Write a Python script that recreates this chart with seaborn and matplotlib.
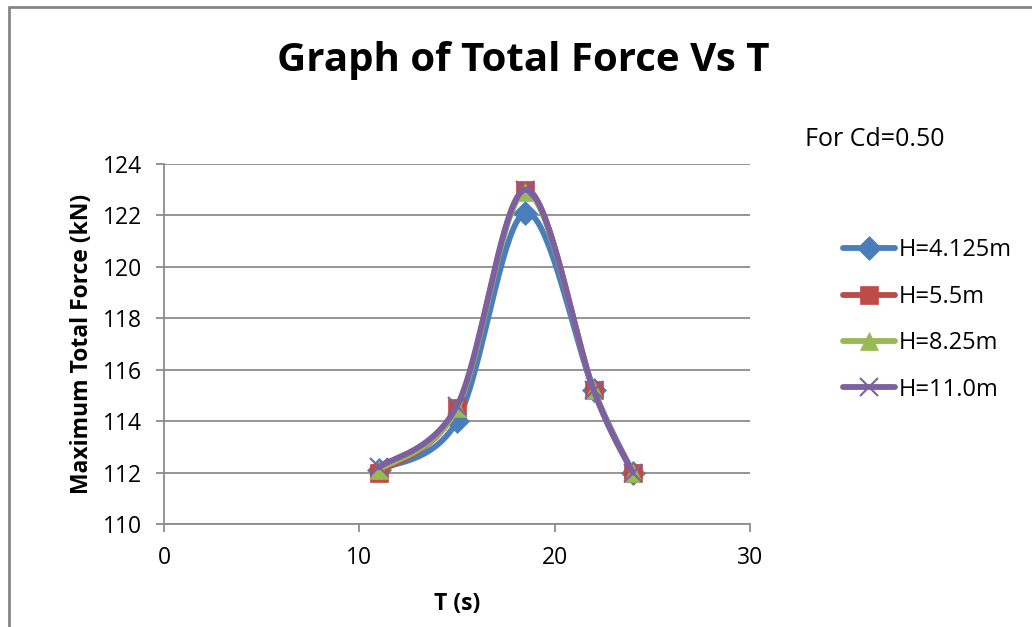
import numpy as np
import pandas as pd
import matplotlib
matplotlib.use("Agg")
import matplotlib.pyplot as plt
from matplotlib.lines import Line2D
import seaborn as sns

# ---- data ----
T = [11, 15, 18.5, 22, 24]
series_names = ["H=4.125m", "H=5.5m", "H=8.25m", "H=11.0m"]
f_h4125 = [112.1, 114.0, 122.1, 115.2, 112.0]
f_h55 = [112.0, 114.5, 123.0, 115.2, 112.0]
f_h825 = [112.1, 114.5, 122.9, 115.2, 112.0]
f_h110 = [112.2, 114.6, 123.0, 115.2, 112.0]
values = [f_h4125, f_h55, f_h825, f_h110]
x_ticks = [0, 10, 20, 30]
y_ticks = [110, 112, 114, 116, 118, 120, 122, 124]

colors = ["#4A7EBB", "#BE4B48", "#98B954", "#7D60A0"]
markers = ["D", "s", "^", "x"]
msizes = [12, 13, 13, 13]

sns.set_theme(style="white")
plt.rcParams["font.family"] = ["Open Sans", "DejaVu Sans"]
plt.rcParams["text.color"] = "black"
plt.rcParams["axes.labelcolor"] = "black"
plt.rcParams["xtick.color"] = "black"
plt.rcParams["ytick.color"] = "black"

W, H = 1032, 627
fig = plt.figure(figsize=(W / 100, H / 100), dpi=100)
L, R, Tp, B = 164, 750, 164, 524
ax = fig.add_axes([L / W, 1 - B / H, (R - L) / W, (B - Tp) / H])

sx = (R - L) / 30.0
sy = (B - Tp) / 14.0


def smooth(xs, ys, n=40):
    # Bezier smoothing like spreadsheet "smoothed line" (done in screen scale)
    P = np.column_stack([np.array(xs) * sx, np.array(ys) * sy])
    m = len(P)
    out = []
    for i in range(m - 1):
        p0 = P[i - 1] if i > 0 else P[i]
        p1 = P[i]
        p2 = P[i + 1]
        p3 = P[i + 2] if i + 2 < m else P[i + 1]
        c1 = p1 + (p2 - p0) / 6.0
        c2 = p2 - (p3 - p1) / 6.0
        t = np.linspace(0, 1, n)[:, None]
        seg = ((1 - t) ** 3) * p1 + 3 * ((1 - t) ** 2) * t * c1 + 3 * (1 - t) * t ** 2 * c2 + t ** 3 * p2
        out.append(seg if i == 0 else seg[1:])
    S = np.vstack(out)
    return S[:, 0] / sx, S[:, 1] / sy


for k, (name, vals) in enumerate(zip(series_names, values)):
    xs_s, ys_s = smooth(T, vals)
    df = pd.DataFrame({"T": xs_s, "F": ys_s})
    sns.lineplot(data=df, x="T", y="F", sort=False, ax=ax, color=colors[k],
                 lw=4.2, zorder=3 + 2 * k, solid_capstyle="round")
    ax.plot(T, vals, linestyle="none", marker=markers[k], markersize=msizes[k],
            color=colors[k], markeredgecolor=colors[k],
            markeredgewidth=1.5 if markers[k] == "x" else 0.5, zorder=4 + 2 * k)

ax.set_xlim(0, 30)
ax.set_ylim(110, 124)
ax.set_xticks(x_ticks)
ax.set_yticks(y_ticks)
ax.set_xticklabels([str(v) for v in x_ticks], fontsize=16.5)
ax.set_yticklabels([str(v) for v in y_ticks], fontsize=16.5)
ax.grid(axis="y", color="#8c8c8c", lw=1.3)
ax.grid(axis="x", visible=False)
for s in ["top", "right"]:
    ax.spines[s].set_visible(False)
for s in ["left", "bottom"]:
    ax.spines[s].set_color("#8c8c8c")
    ax.spines[s].set_linewidth(1.3)
ax.tick_params(axis="both", direction="out", length=6, width=1.3, color="#8c8c8c",
               labelcolor="black", pad=10, left=True, bottom=True)
ax.set_xlabel("T (s)", fontsize=16.5, fontweight="bold", labelpad=16)
ax.set_ylabel("Maximum Total Force (kN)", fontsize=16.5, fontweight="bold", labelpad=6)
ax.set_facecolor("white")

fig.text(523 / W, 1 - 60 / H, "Graph of Total Force Vs T", ha="center", va="center",
         fontsize=29, fontweight="bold", color="black")
fig.text(805 / W, 1 - 140 / H, "For Cd=0.50", ha="left", va="center", fontsize=18,
         color="black")

handles = [Line2D([], [], color=colors[k], lw=4.2, marker=markers[k], markersize=msizes[k],
                  markeredgecolor=colors[k], markeredgewidth=1.5 if markers[k] == "x" else 0.5)
           for k in range(4)]
fig.legend(handles, series_names, loc="upper left", bbox_to_anchor=(834 / W, 1 - 229 / H),
           frameon=False, fontsize=17, handlelength=2.2, handletextpad=0.15,
           labelspacing=0.95, borderaxespad=0)

# outer chart frame (cropped)
fig.add_artist(Line2D([8.5 / W, 8.5 / W], [0, 1 - 6.5 / H], color="#868686", lw=2,
                      transform=fig.transFigure))
fig.add_artist(Line2D([8.5 / W, 1], [1 - 6.5 / H, 1 - 6.5 / H], color="#868686", lw=2,
                      transform=fig.transFigure))

fig.savefig("out.png", dpi=100, facecolor="white")
